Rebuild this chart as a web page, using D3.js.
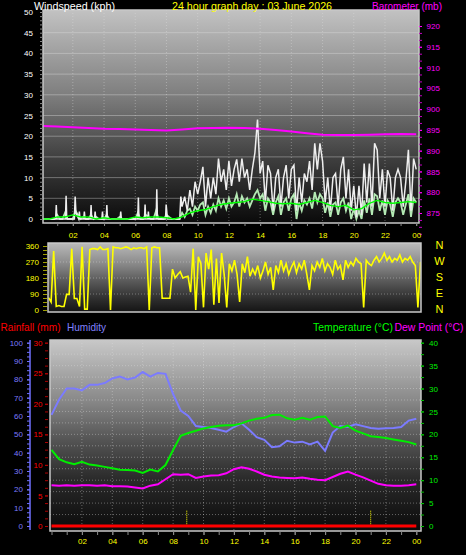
<!DOCTYPE html>
<html><head><meta charset="utf-8">
<script src="https://cdn.jsdelivr.net/npm/d3@7"></script>
<style>
body{margin:0;background:#000;}
svg{display:block;font-family:"Liberation Sans",Arial,sans-serif;}
</style>
</head><body>
<svg id="c" width="466" height="555"></svg>
<script>
// ---------------- DATA ----------------
const titleText = "24 hour graph day : 03 June 2026";
const timeHours = [2,4,6,8,10,12,14,16,18,20,22,24];
const timeLabels = ["02","04","06","08","10","12","14","16","18","20","22","00"];
const windTicks = [0,5,10,15,20,25,30,35,40,45,50];
const baroTicks = [875,880,885,890,895,900,905,910,915,920];
const dirTicks = [0,90,180,270,360];
const compassLabels = ["N","W","S","E","N"];
const humTicks = [0,10,20,30,40,50,60,70,80,90,100];
const rainTicks = [0,5,10,15,20,25,30];
const tempTicks = [0,5,10,15,20,25,30,35,40];

// barometer, hourly 00..24
const baro = [895.96,895.8,895.65,895.45,895.25,895.2,895.1,895.0,894.85,895.1,895.4,895.45,895.5,895.45,895.3,894.95,894.6,894.2,893.85,893.75,893.75,893.85,893.95,894.0,893.95];

// wind gust, quiet night: [hour, kph]
const gustQuiet = [[0,0],[0.9,0],[0.94,3.4],[0.98,0],[1.53,0],[1.57,5.6],[1.61,0],[2.1,0],[2.15,5.4],[2.2,1.5],[2.38,0],[2.42,1.8],[2.46,0],[2.7,0],[2.74,1.8],[2.78,0],[3.13,0],[3.17,3.4],[3.21,0],[3.39,0],[3.43,1.8],[3.47,0],[3.86,0],[3.9,1.8],[3.94,0],[4.14,0],[4.18,3.4],[4.22,0],[5.03,0],[5.07,1.8],[5.11,0],[6.16,0],[6.2,5.2],[6.24,0],[6.59,0],[6.63,3.5],[6.67,0],[6.8,0],[6.84,1.8],[6.88,0],[7.34,0],[7.38,7.2],[7.42,0],[7.94,0],[7.98,3.5],[8.02,1.8],[8.06,0],[8.85,0],[8.92,5.4]];
// wind gust from 09:00, every 10 minutes
const gustActive = [3,5.4,2,7,3,9, 6,9,12.6,3,10,5, 10,6,14.6,9,12,7, 14,8,12,14.4,9,14.6, 10,12,7,12,16,24, 11,14,4,13,11,2, 10,12,3,10,13,5, 12,13,2,10,4,11, 9,14,7,18.3,12,18.3, 14,4,10,2,10,11, 3,12,15,5,12,2, 8,0.5,8,1,13.4,4, 13.4,3,18.3,16.7,5,12, 3,11.8,10,2,10,12, 10,3,9,16.7,2,14.6, 12];
// wind speed, every 10 minutes from 00:00
const speed = [0,0,0,0,0,0, 1,0,0,1.5,0,0, 0,2,1,0,0.5,0, 0,1,0,0.5,0,0, 0,1,0,0,0,0, 0.5,0,0,0,0,0, 0,1.5,0,0,1,0.5, 0,0,2,0,0,0, 1,0.5,0,0,0,0, 1.5,0.5,2,2.5,1,3, 2,3.5,4,1,3,1.5, 3.5,2,5,3,4.5,2.5, 5,3,4,6,3,5.5, 4,5,3,4.5,6,7, 5,6,2,5,4,1, 4,5.5,1,4,5,2, 5,6,0,4,2,4.5, 3.5,5,2.5,6.5,4,6, 5,1.5,4,0.5,3.5,4, 1,4,5,2,4,0, 2.5,0,2,0,4.5,1.5, 5,1,6,5.5,2,4.5, 1,4.5,3.5,0.5,4,5, 4,1,3.5,6,0.5,5, 4];
// average wind, every 30 minutes
const windAvg = [0,0,0.5,0.5,1,0.5,0.5,0,0.3,0,0,0,0.5,0.3,0.5,0.5,0.3,0, 0.5,1.5,2,2.3,3,3.5,3.8,4,4.2,4.8,4.5,4.2,3.8,3.7,3.8,3.5,4,4.5,4,3.3,3,3.3,2.2,2.5,3.8,4.5,4,3.8,4,4.2,4];
// wind direction, every 10 minutes
const direction = [70,45,332,20,25,20, 20,88,88,345,65,65, 20,355,5,5,340,345, 345,340,355,340,340,345, 0,355,350,350,345,350, 355,350,340,350,345,350, 350,345,355,0,350,355, 350,350,66,66,66,66, 230,180,200,215,180,185, 190,100,345,0,300,260, 15,320,230,340,30,290, 40,320,200,15,260,220, 280,200,45,260,210,300, 190,230,200,250,180,220, 270,200,240,113,250,210, 280,220,260,200,240,270, 210,260,230,280,200,113, 250,220,270,240,290,220, 260,240,200,280,230,250, 170,280,240,270,250,290, 270,260,15,280,260,250, 280,300,270,290,320,280, 300,270,290,280,310,270, 290,280,300,270,250,15, 270];
// every 30 minutes
const humidity = [60.6,69,75,75,74,77,77,78,80.5,81.5,80,81,84,81.5,83.5,83,72,63,60,54.5,54,53.5,52.5,51.5,54,56,52.5,48.5,47,43,43.5,46.5,45.5,46,44.5,46,41,51,54.5,54,55.5,54.5,53.5,53,53.3,53.5,54,57.5,58.5];
const temperature = [16.6,14.6,13.9,13.5,14,13.4,13.2,12.9,12.6,12.3,12.2,12.1,11.6,12.3,11.9,13.3,16.6,19.7,20.3,20.8,21.3,21.6,21.9,22,22,22.4,23,23.4,23.6,24.2,24.3,23.5,23.2,23.6,23.2,23.8,23.9,21.8,21.4,21.9,20.8,20.2,19.6,19.4,19.2,18.9,18.6,18.3,17.8];
const dewPoint = [8.9,8.8,8.9,8.8,8.9,8.9,8.8,8.9,8.7,8.7,8.6,8.4,8.2,8.8,9.1,10.2,11.3,11.2,11.3,10.5,10.8,11.0,11.1,11.5,12.4,12.8,12.5,11.9,11.2,10.8,10.6,10.5,10.4,10.6,10.3,10.1,10.0,10.7,11.4,11.9,11.2,10.6,9.9,9.2,8.9,8.8,8.8,8.9,9.1];
const rainfall = [[0,0],[24,0]];
const markerHours = [8.9, 21.0];

// ---------------- DRAW ----------------
const svg = d3.select("#c");
const defs = svg.append("defs");
function grad(id, stops){
  const g = defs.append("linearGradient").attr("id",id).attr("x1",0).attr("y1",0).attr("x2",0).attr("y2",1);
  stops.forEach(s=>g.append("stop").attr("offset",s[0]).attr("stop-color",s[1]));
}
grad("gTop",[[0,"#c2c2c2"],[0.4,"#7e7e7e"],[0.7,"#3e3e3e"],[1,"#0a0a0a"]]);
grad("gMid",[[0,"#bababa"],[0.3,"#8a8a8a"],[0.55,"#5a5a5a"],[0.8,"#303030"],[1,"#141414"]]);
grad("gBot",[[0,"#c8c8c8"],[0.31,"#8a8a8a"],[0.52,"#555555"],[0.73,"#2a2a2a"],[1,"#0a0a0a"]]);

const P = {
  top:{x:43,y:10,w:376,h:213},
  mid:{x:48,y:243,w:373,h:69},
  bot:{x:50,y:340,w:371,h:191}
};
Object.entries(P).forEach(([k,p])=>{
  defs.append("clipPath").attr("id","clip"+k).append("rect").attr("x",p.x).attr("y",p.y).attr("width",p.w).attr("height",p.h);
});
function panel(p,g){
  svg.append("rect").attr("x",p.x).attr("y",p.y).attr("width",p.w).attr("height",p.h).attr("fill","url(#"+g+")");
}
function frame(p){
  svg.append("rect").attr("x",p.x).attr("y",p.y).attr("width",p.w).attr("height",p.h)
    .attr("fill","none").attr("stroke","#c8c8c8").attr("stroke-width",1.5);
}
panel(P.top,"gTop"); panel(P.mid,"gMid"); panel(P.bot,"gBot");

// scales
const xTop = d3.scaleLinear().domain([0,24]).range([41.6,416.2]);
const xMid = d3.scaleLinear().domain([0,24]).range([48.5,420.5]);
const xBot = d3.scaleLinear().domain([0,24]).range([51.5,416.3]);
const yWind = d3.scaleLinear().domain([0,50]).range([219,12]);
const yBaro = d3.scaleLinear().domain([875,920]).range([213,26]);
const yDir = d3.scaleLinear().domain([0,360]).range([310,246]);
const yHum = d3.scaleLinear().domain([0,100]).range([526,342.7]);
const yRain = d3.scaleLinear().domain([0,30]).range([526,342.7]);
const yTemp = d3.scaleLinear().domain([0,40]).range([526,342.7]);

// grids
const gridCol = "rgba(225,225,225,0.38)";
const gt = svg.append("g").attr("clip-path","url(#cliptop)");
gt.selectAll("line.h").data(windTicks.slice(1,-1)).join("line")
  .attr("x1",P.top.x).attr("x2",P.top.x+P.top.w).attr("y1",d=>yWind(d)).attr("y2",d=>yWind(d))
  .attr("stroke",gridCol).attr("stroke-width",1);
gt.selectAll("line.v").data(timeHours.slice(0,-1)).join("line")
  .attr("x1",d=>xTop(d)).attr("x2",d=>xTop(d)).attr("y1",P.top.y).attr("y2",P.top.y+P.top.h)
  .attr("stroke",gridCol).attr("stroke-dasharray","1,2");
const gm = svg.append("g").attr("clip-path","url(#clipmid)");
gm.selectAll("line").data([90,180,270]).join("line")
  .attr("x1",P.mid.x).attr("x2",P.mid.x+P.mid.w).attr("y1",d=>yDir(d)).attr("y2",d=>yDir(d))
  .attr("stroke",gridCol).attr("stroke-dasharray","1,2");
const gb = svg.append("g").attr("clip-path","url(#clipbot)");
gb.selectAll("line.h").data(d3.range(2.5,40,2.5)).join("line")
  .attr("x1",P.bot.x).attr("x2",P.bot.x+P.bot.w).attr("y1",d=>yTemp(d)).attr("y2",d=>yTemp(d))
  .attr("stroke",gridCol).attr("stroke-dasharray","1,2");
gb.selectAll("line.v").data(timeHours.slice(0,-1)).join("line")
  .attr("x1",d=>xBot(d)).attr("x2",d=>xBot(d)).attr("y1",P.bot.y).attr("y2",P.bot.y+P.bot.h)
  .attr("stroke",gridCol).attr("stroke-dasharray","1,2");

// top chart series
const gustPts = gustQuiet.concat(gustActive.map((v,i)=>[9+i/6,v]));
const lineTop = (ys)=>d3.line().x(d=>xTop(d[0])).y(d=>ys(d[1]));
gt.append("path").datum(speed.map((v,i)=>[i/6,v])).attr("d",lineTop(yWind))
  .attr("fill","none").attr("stroke","#b4eab4").attr("stroke-width",1.8);
gt.append("path").datum(gustPts).attr("d",lineTop(yWind))
  .attr("fill","none").attr("stroke","#eeeeee").attr("stroke-width",1.5);
gt.append("path").datum(windAvg.map((v,i)=>[i/2,v])).attr("d",lineTop(yWind))
  .attr("fill","none").attr("stroke","#00ff00").attr("stroke-width",1.4);
gt.append("path").datum(baro.map((v,i)=>[i,v])).attr("d",lineTop(yBaro))
  .attr("fill","none").attr("stroke","#ff00ff").attr("stroke-width",2);

// middle chart series
gm.append("path").datum(direction.map((v,i)=>[i/6,v]))
  .attr("d",d3.line().x(d=>xMid(d[0])).y(d=>yDir(d[1])))
  .attr("fill","none").attr("stroke","#ffff00").attr("stroke-width",1.6);

// bottom chart series
const lineBot = (ys)=>d3.line().x(d=>xBot(d[0])).y(d=>ys(d[1]));
gb.append("path").datum(humidity.map((v,i)=>[i/2,v])).attr("d",lineBot(yHum))
  .attr("fill","none").attr("stroke","#7b7bff").attr("stroke-width",2);
gb.append("path").datum(temperature.map((v,i)=>[i/2,v])).attr("d",lineBot(yTemp))
  .attr("fill","none").attr("stroke","#00ee00").attr("stroke-width",2);
gb.append("path").datum(dewPoint.map((v,i)=>[i/2,v])).attr("d",lineBot(yTemp))
  .attr("fill","none").attr("stroke","#ff00ff").attr("stroke-width",2);
gb.selectAll("line.mk").data(markerHours).join("line")
  .attr("x1",d=>xBot(d)).attr("x2",d=>xBot(d)).attr("y1",yRain(2.5)).attr("y2",yRain(0))
  .attr("stroke","#ffff00").attr("stroke-dasharray","1,1").attr("stroke-width",1);
gb.append("path").datum(rainfall).attr("d",lineBot(yRain))
  .attr("fill","none").attr("stroke","#ff0000").attr("stroke-width",3);

frame(P.top); frame(P.mid); frame(P.bot);

// axes helpers
function styleAxis(g, tickCol, textCol, size){
  g.select(".domain").remove();
  g.selectAll(".tick line").attr("stroke",tickCol);
  g.selectAll("text").attr("fill",textCol).attr("font-size",size||8).attr("font-family","Liberation Sans, Arial, sans-serif");
}
// wind axis (left)
svg.append("g").attr("transform","translate(43,0)")
  .call(d3.axisLeft(yWind).tickValues(d3.range(0,51,1)).tickSize(3).tickFormat(""))
  .call(g=>styleAxis(g,"#8a8a8a","#fff"));
svg.append("g").attr("transform","translate(43,0)")
  .call(d3.axisLeft(yWind).tickValues(windTicks).tickSize(0).tickPadding(10))
  .call(g=>styleAxis(g,"#8a8a8a","#ffffff"));
// barometer axis (right)
svg.append("g").attr("transform","translate(419,0)")
  .call(d3.axisRight(yBaro).tickValues(d3.range(0,30).map(i=>870+i*5/3)).tickSize(3).tickFormat(""))
  .call(g=>styleAxis(g,"#c000c0","#ff00ff"));
svg.append("g").attr("transform","translate(419,0)")
  .call(d3.axisRight(yBaro).tickValues(baroTicks).tickSize(3).tickPadding(4.5))
  .call(g=>styleAxis(g,"#ff00ff","#ff00ff"));
// top time axis
svg.append("g").attr("transform","translate(0,223)")
  .call(d3.axisBottom(xTop).tickValues(d3.range(1,25)).tickSize(3).tickFormat(""))
  .call(g=>styleAxis(g,"#8a8a8a","#ffff00"));
svg.append("g").attr("transform","translate(0,223)")
  .call(d3.axisBottom(xTop).tickValues(timeHours).tickSize(3).tickPadding(6).tickFormat((d,i)=>timeLabels[i]))
  .call(g=>styleAxis(g,"#8a8a8a","#ffff00"));
// direction axis
svg.append("g").attr("transform","translate(47,0)")
  .call(d3.axisLeft(yDir).tickValues(d3.range(0,361,22.5)).tickSize(4).tickFormat(""))
  .call(g=>styleAxis(g,"#a0a000","#ffff00"));
svg.append("g").attr("transform","translate(47,0)")
  .call(d3.axisLeft(yDir).tickValues(dirTicks).tickSize(4).tickPadding(4))
  .call(g=>styleAxis(g,"#a0a000","#ffff00"));
svg.append("g").selectAll("text").data(dirTicks.slice().reverse()).join("text")
  .attr("x",439.5).attr("y",d=>yDir(d)+2.5).attr("text-anchor","middle")
  .attr("fill","#ffff00").attr("font-size",11).text((d,i)=>compassLabels[i]);
// humidity axis
svg.append("line").attr("x1",30).attr("x2",30).attr("y1",340).attr("y2",530).attr("stroke","#7070ff").attr("stroke-width",1.5);
svg.append("g").attr("transform","translate(30,0)")
  .call(d3.axisLeft(yHum).tickValues(d3.range(0,101,2.5)).tickSize(3).tickFormat(""))
  .call(g=>styleAxis(g,"#7070ff","#7b7bff"));
svg.append("g").attr("transform","translate(30,0)")
  .call(d3.axisLeft(yHum).tickValues(humTicks).tickSize(3).tickPadding(4))
  .call(g=>styleAxis(g,"#7070ff","#7b7bff"));
// rain axis
svg.append("g").attr("transform","translate(48,0)")
  .call(d3.axisLeft(yRain).tickValues(d3.range(0,30.1,1.25)).tickSize(3).tickFormat(""))
  .call(g=>styleAxis(g,"#b00000","#ff0000"));
svg.append("g").attr("transform","translate(48,0)")
  .call(d3.axisLeft(yRain).tickValues(rainTicks).tickSize(3).tickPadding(2.5))
  .call(g=>styleAxis(g,"#b00000","#ff0000"));
// temperature axis
svg.append("g").attr("transform","translate(421,0)")
  .call(d3.axisRight(yTemp).tickValues(d3.range(0,40.1,2.5)).tickSize(3).tickFormat(""))
  .call(g=>styleAxis(g,"#00c000","#00ff00"));
svg.append("g").attr("transform","translate(421,0)")
  .call(d3.axisRight(yTemp).tickValues(tempTicks).tickSize(3).tickPadding(5))
  .call(g=>styleAxis(g,"#00c000","#00ee00"));
// bottom time axis
svg.append("g").attr("transform","translate(0,531)")
  .call(d3.axisBottom(xBot).tickValues(d3.range(0,25)).tickSize(4).tickFormat(""))
  .call(g=>styleAxis(g,"#8a8a8a","#ffff00"));
svg.append("g").attr("transform","translate(0,531)")
  .call(d3.axisBottom(xBot).tickValues(timeHours).tickSize(4).tickPadding(3).tickFormat((d,i)=>timeLabels[i]))
  .call(g=>styleAxis(g,"#8a8a8a","#ffff00"));

// headers
function hdr(t,x,y,col,anchor,len){
  const e = svg.append("text").attr("x",x).attr("y",y).attr("fill",col).attr("font-size",11)
    .attr("text-anchor",anchor||"start").text(t);
  if(len) e.attr("textLength",len).attr("lengthAdjust","spacingAndGlyphs");
}
hdr("Windspeed (kph)",34,9.5,"#ffffff","start",81);
hdr(titleText,172,9.5,"#ffff00","start",160);
hdr("Barometer (mb)",372,9.5,"#ff00ff","start",70);
hdr("Rainfall (mm)",0.5,331,"#ff0000","start",60);
hdr("Humidity",67,331,"#8080ff","start",39);
hdr("Temperature (°C)",313,331,"#00ff00","start",80);
hdr("Dew Point (°C)",394.5,331,"#ff00ff","start",69);
</script>
</body></html>
